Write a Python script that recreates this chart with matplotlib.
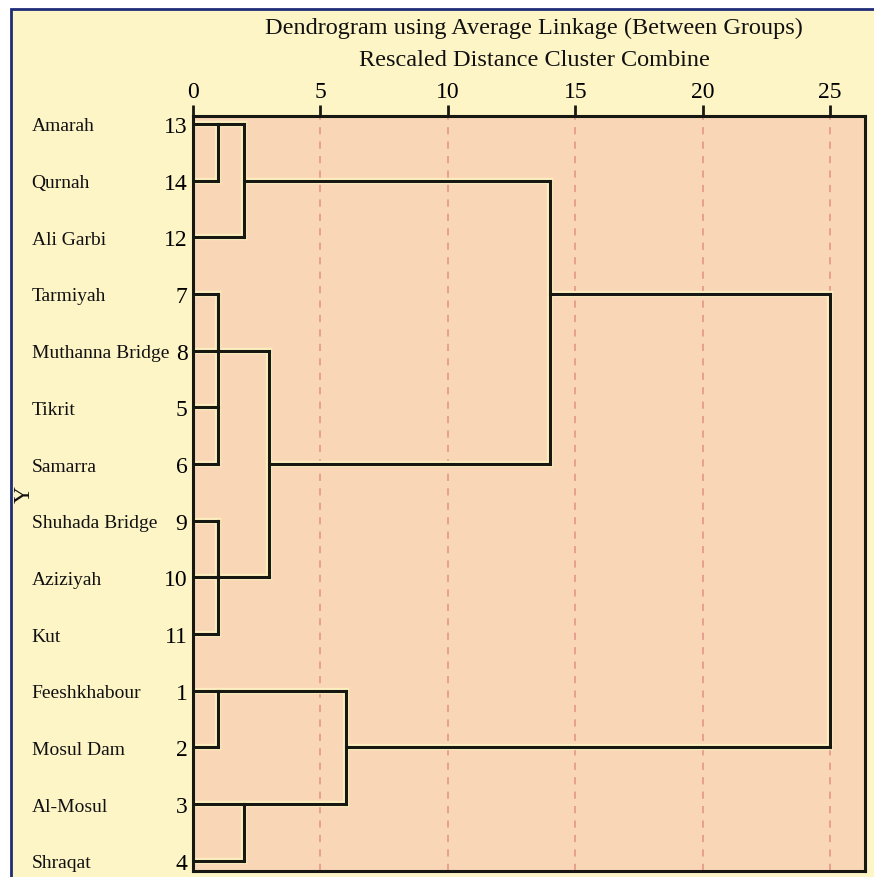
import numpy as np
import matplotlib.pyplot as plt
from matplotlib.collections import LineCollection
from matplotlib.patches import Rectangle

plt.rcParams["font.family"] = ["Liberation Serif", "DejaVu Serif"]

# leaf order top to bottom
names = ["Amarah", "Qurnah", "Ali Garbi", "Tarmiyah", "Muthanna Bridge", "Tikrit",
         "Samarra", "Shuhada Bridge", "Aziziyah", "Kut", "Feeshkhabour", "Mosul Dam",
         "Al-Mosul", "Shraqat"]
ids = [13, 14, 12, 7, 8, 5, 6, 9, 10, 11, 1, 2, 3, 4]

# merges: (cluster a, cluster b, rescaled distance); new clusters numbered 15, 16, ...
merges = [(13, 14, 1), (15, 12, 2), (7, 8, 1), (5, 6, 1), (17, 18, 1),
          (9, 10, 1), (20, 11, 1), (19, 21, 3), (16, 22, 14),
          (1, 2, 1), (3, 4, 2), (24, 25, 6), (23, 26, 25)]
xticks = [0, 5, 10, 15, 20, 25]

BG = "#fdf5c6"
PLOT_BG = "#f9d6b5"
INK = "#181812"

# build dendrogram segments (SPSS style: joining line leaves from the middle row)
rep = {c: i for i, c in enumerate(ids)}
xend = {c: 0 for c in ids}
segs = []
next_id = 15
for a, b, h in merges:
    for c in (a, b):
        segs.append([(xend[c], rep[c]), (h, rep[c])])
    lo, hi = sorted((rep[a], rep[b]))
    segs.append([(h, lo), (h, hi)])
    rep[next_id] = (lo + hi) // 2
    xend[next_id] = h
    next_id += 1

fig = plt.figure(figsize=(8.74, 8.78), dpi=100, facecolor="white")
fig.patches.append(Rectangle((11 / 874, -0.02), 1.05, 1.02 - 10 / 878,
                             transform=fig.transFigure, facecolor=BG,
                             edgecolor="#1f2c78", linewidth=2, zorder=-10))

ax = fig.add_axes([193 / 874, 6 / 878, 672 / 874, 755 / 878])
ax.set_facecolor(PLOT_BG)

for x in xticks[1:]:
    ax.axvline(x, color="#e79c8e", linewidth=1.3, linestyle=(0, (4, 4)), zorder=1)

ax.add_collection(LineCollection(segs, colors="#fdeec0", linewidths=4.5,
                                 capstyle="projecting", zorder=2))
ax.add_collection(LineCollection(segs, colors=INK, linewidths=2.2,
                                 capstyle="projecting", zorder=3))

ax.set_xlim(0, 26.37)
ax.set_ylim(13.18, -0.14)

ax.xaxis.tick_top()
ax.set_xticks(xticks)
ax.set_xticklabels([str(t) for t in xticks], fontsize=17)
ax.tick_params(axis="x", direction="out", length=8, width=2, color=INK, pad=2)

ax.set_yticks(range(len(ids)))
ax.set_yticklabels([str(i) for i in ids], fontsize=17)
ax.tick_params(axis="y", length=0, pad=4)
for i, n in enumerate(names):
    ax.text(-0.24, i, n, transform=ax.get_yaxis_transform(), ha="left",
            va="center_baseline", fontsize=14, color="#111111")

for s in ax.spines.values():
    s.set_color(INK)
    s.set_linewidth(2.2)

fig.text(24 / 874, 1 - 494 / 878, "Y", rotation=90, ha="center", va="center",
         fontsize=17, color="#111111")

fig.text(0.611, 1 - 28 / 878, "Dendrogram using Average Linkage (Between Groups)",
         ha="center", va="center", fontsize=17.5, color="#111111")
fig.text(0.611, 1 - 60 / 878, "Rescaled Distance Cluster Combine",
         ha="center", va="center", fontsize=17.5, color="#111111")

fig.savefig("out.png", dpi=100, facecolor="white")
